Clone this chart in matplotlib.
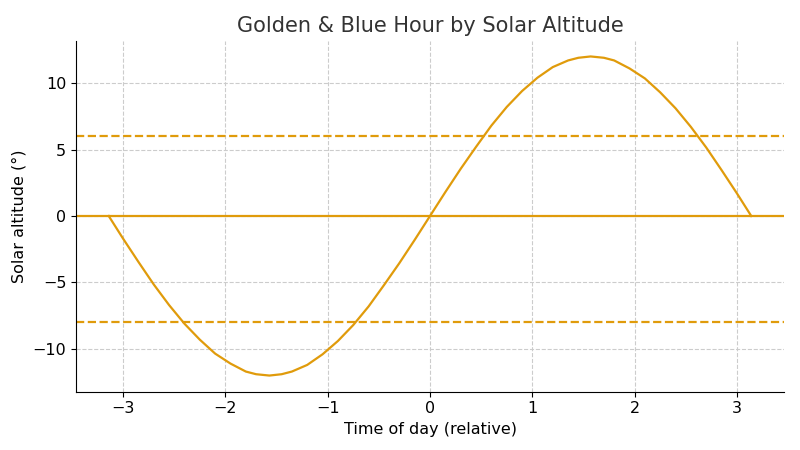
import matplotlib
matplotlib.use("Agg")
import matplotlib.pyplot as plt

# values
time_rel = [-3.14, -3.0, -2.85, -2.7, -2.55, -2.4, -2.25, -2.1, -1.95, -1.8, -1.7, -1.57,
            -1.45, -1.35, -1.2, -1.05, -0.9, -0.75, -0.6, -0.45, -0.3, -0.15, 0.0,
            0.15, 0.3, 0.45, 0.6, 0.75, 0.9, 1.05, 1.2, 1.35, 1.45, 1.57,
            1.7, 1.8, 1.95, 2.1, 2.25, 2.4, 2.55, 2.7, 2.85, 3.0, 3.14]
altitude = [0.0, -1.7, -3.45, -5.15, -6.7, -8.1, -9.3, -10.35, -11.1, -11.7, -11.9, -12.0,
            -11.9, -11.7, -11.2, -10.4, -9.4, -8.2, -6.8, -5.2, -3.55, -1.8, 0.0,
            1.8, 3.55, 5.2, 6.8, 8.2, 9.4, 10.4, 11.2, 11.7, 11.9, 12.0,
            11.9, 11.7, 11.1, 10.35, 9.3, 8.1, 6.7, 5.15, 3.45, 1.7, 0.0]
golden_level = 6
horizon_level = 0
blue_level = -8

color = "#E09B0B"

fig, ax = plt.subplots(figsize=(8, 4.5), dpi=100)
ax.plot(time_rel, altitude, color=color, lw=1.6)
ax.axhline(golden_level, color=color, ls="--", lw=1.6)
ax.axhline(horizon_level, color=color, lw=1.6)
ax.axhline(blue_level, color=color, ls="--", lw=1.6)

ax.set_xlim(-3.46, 3.46)
ax.set_ylim(-13.2, 13.2)
ax.set_xticks([-3, -2, -1, 0, 1, 2, 3])
ax.set_yticks([-10, -5, 0, 5, 10])
ax.grid(True, ls="--", color="#cccccc", lw=0.8)
ax.spines["top"].set_visible(False)
ax.spines["right"].set_visible(False)
ax.tick_params(labelsize=11.5)
ax.set_title("Golden & Blue Hour by Solar Altitude", fontsize=15, color="#333333")
ax.set_xlabel("Time of day (relative)", fontsize=11.5)
ax.set_ylabel("Solar altitude (°)", fontsize=11.5)

fig.subplots_adjust(left=0.095, right=0.98, top=0.91, bottom=0.13)
fig.savefig("out.png")
